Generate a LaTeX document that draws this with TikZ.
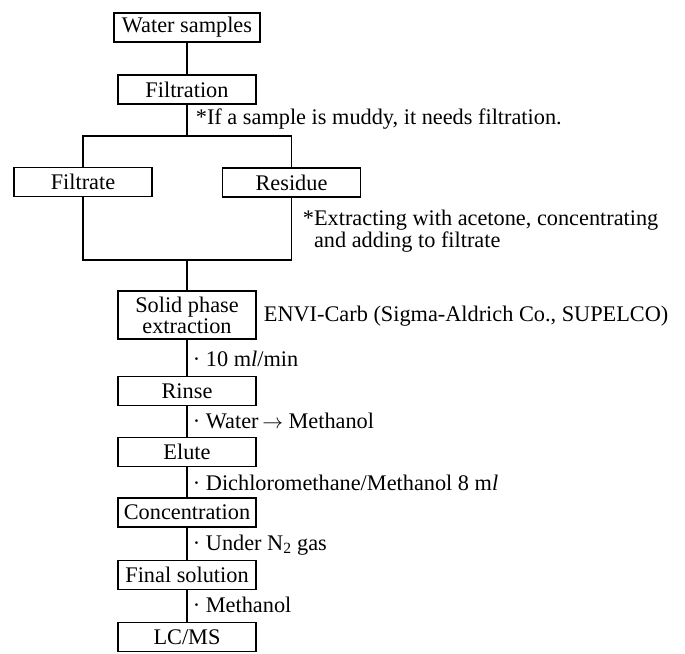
\documentclass[tikz,border=0pt]{standalone}
\usepackage{fontspec}
\setmainfont{Liberation Serif}
\begin{document}
\begin{tikzpicture}[x=1pt,y=-1pt,
  line width=1.8pt,
  every node/.style={font=\fontsize{22.3}{21}\selectfont},
  box/.style={draw, rectangle, inner sep=0pt, minimum width=138pt, minimum height=29pt, align=center},
  note/.style={anchor=base west, inner sep=0pt, align=left}]
\useasboundingbox (0,0) rectangle (685,653);
\node[box, minimum width=146pt] (ws) at (187,27.5) {Water samples};
\node[box] (filt) at (187,89.5) {Filtration};
\node[box] (fl) at (83,182) {Filtrate};
\node[box] (res) at (291.5,182.5) {Residue};
\node[box, minimum height=48pt] (spe) at (187,315) {Solid phase\\extraction};
\node[box] (rinse) at (187,391) {Rinse};
\node[box] (elute) at (187,452) {Elute};
\node[box] (conc) at (187,512.5) {Concentration};
\node[box] (fin) at (187,575) {Final solution};
\node[box] (lcms) at (187,637) {LC/MS};
\coordinate (s1) at (187,136);
\coordinate (j1) at (187,260);
\draw (ws) -- (filt);
\draw (filt) -- (s1);
\draw (fl.north) |- (s1) -| (res.north);
\draw (fl.south) |- (j1) -| (res.south);
\draw (j1) -- (spe.north);
\draw (spe) -- (rinse);
\draw (rinse) -- (elute);
\draw (elute) -- (conc);
\draw (conc) -- (fin);
\draw (fin) -- (lcms);
\node[note] (n1) at (195,124) {*If a sample is muddy, it needs filtration.};
\node[note] (n2) at (302,225) {*Extracting with acetone, concentrating};
\node[note] (n3) at (302,247) {\phantom{*}and adding to filtrate};
\node[note] (n4) at (263,321.5) {ENVI-Carb (Sigma-Aldrich Co., SUPELCO)};
\node[note] (n5) at (192,366.5) {· 10 m\textit{l}/min};
\node[note] (n6) at (192,428) {· Water\,$\rightarrow$\ Methanol};
\node[note] (n7) at (192,490) {· Dichloromethane/Methanol 8 m\textit{l}};
\node[note] (n8) at (192,550) {· Under N\textsubscript{2} gas};
\node[note] (n9) at (192,612.5) {· Methanol};
\end{tikzpicture}
\end{document}
